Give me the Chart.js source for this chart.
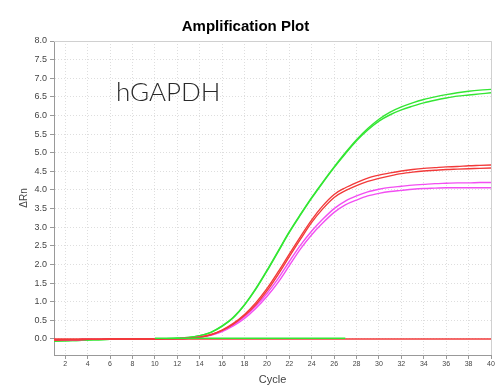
<!DOCTYPE html>
<html>
<head>
<meta charset="utf-8">
<script src="https://cdn.jsdelivr.net/npm/chart.js@4"></script>
<style>
html,body{margin:0;padding:0;background:#fff;}
#wrap{width:500px;height:387px;position:relative;}
</style>
</head>
<body>
<div id="wrap"><canvas id="c" width="500" height="387"></canvas></div>
<script>
const cycles = [1,2,3,4,5,6,7,8,9,10,11,12,13,14,15,16,17,18,19,20,21,22,23,24,25,26,27,28,29,30,31,32,33,34,35,36,37,38,39,40];
const xTicks = [2,4,6,8,10,12,14,16,18,20,22,24,26,28,30,32,34,36,38,40];
const yTicks = [0,0.5,1,1.5,2,2.5,3,3.5,4,4.5,5,5.5,6,6.5,7,7.5,8];

const greenA = [-0.06,-0.05,-0.04,-0.03,-0.02,-0.01,0,0,0,0.01,0.01,0.02,
  0.04,0.09,0.18,0.35,0.58,0.92,1.35,1.84,2.36,2.88,3.35,3.8,4.22,4.62,5.0,5.35,5.65,5.9,6.09,6.23,6.34,6.43,6.50,6.56,6.61,6.65,6.68,6.70];
const greenB = [-0.05,-0.05,-0.04,-0.03,-0.02,-0.01,0,0,0,0.01,0.01,0.02,
  0.04,0.09,0.18,0.34,0.57,0.91,1.33,1.82,2.34,2.86,3.33,3.78,4.2,4.6,4.97,5.32,5.61,5.85,6.02,6.15,6.25,6.34,6.41,6.47,6.52,6.55,6.58,6.61];
const redA = [-0.03,-0.02,-0.02,-0.01,-0.01,0,0,0,0,0,0.01,0.01,
  0.02,0.05,0.12,0.24,0.42,0.66,0.97,1.35,1.8,2.28,2.75,3.2,3.58,3.88,4.06,4.2,4.32,4.40,4.46,4.51,4.55,4.58,4.60,4.62,4.63,4.65,4.66,4.67];
const redB = [-0.03,-0.02,-0.02,-0.01,-0.01,0,0,0,0,0,0.01,0.01,
  0.02,0.05,0.11,0.23,0.40,0.63,0.92,1.29,1.73,2.21,2.68,3.13,3.5,3.8,3.98,4.12,4.23,4.31,4.38,4.44,4.48,4.51,4.53,4.55,4.56,4.57,4.58,4.59];
const magentaA = [-0.03,-0.02,-0.02,-0.01,-0.01,0,0,0,0,0,0.01,0.01,
  0.02,0.05,0.11,0.22,0.38,0.6,0.88,1.22,1.62,2.08,2.52,2.9,3.22,3.5,3.7,3.84,3.95,4.02,4.07,4.10,4.13,4.15,4.17,4.18,4.19,4.19,4.20,4.20];
const magentaB = [-0.03,-0.02,-0.02,-0.01,-0.01,0,0,0,0,0,0.01,0.01,
  0.02,0.05,0.10,0.2,0.35,0.55,0.82,1.14,1.52,1.97,2.42,2.8,3.12,3.4,3.6,3.73,3.84,3.91,3.96,3.99,4.02,4.04,4.05,4.06,4.06,4.06,4.06,4.06];
const greenNTC = [null,null,null,null,null,null,null,null,null,0.02,0.02,0.02,0.02,0.02,0.02,0.02,0.02,0.02,0.02,0.02,0.02,0.02,0.02,0.02,0.02,0.02,0.02,null,null,null,null,null,null,null,null,null,null,null,null,null];
const redNTC = [0,0,0,0,0,0,0,0,0,0,0,0,0,0,0,0,0,0,0,0,0,0,0,0,0,0,0,0,0,0,0,0,0,0,0,0,0,0,0,0];

const GREEN = '#33e633', RED = '#f23a3a', MAGENTA = '#f24ef2';

function pts(arr){ return cycles.map((c,i)=>({x:c, y:arr[i]})); }
function ds(arr, color){
  return {data: pts(arr), borderColor: color, backgroundColor: color, borderWidth: 1.4,
    pointRadius: 0, cubicInterpolationMode: 'monotone', fill: false, spanGaps: false};
}

const frame = {
  id: 'frame',
  beforeDatasetsDraw(chart){
    const {ctx, chartArea: a} = chart;
    ctx.save();
    ctx.strokeStyle = '#d0d0d0';
    ctx.lineWidth = 1;
    ctx.beginPath();
    ctx.moveTo(a.left, a.top + 0.5);
    ctx.lineTo(a.right + 0.5, a.top + 0.5);
    ctx.lineTo(a.right + 0.5, a.bottom);
    ctx.stroke();
    ctx.restore();
  },
  afterDraw(chart){
    const {ctx} = chart;
    ctx.save();
    ctx.fillStyle = '#2a2a2a';
    ctx.font = '300 26px Lato, "Open Sans", sans-serif';
    ctx.textBaseline = 'alphabetic';
    ctx.fillText('hGAPDH', 116, 101);
    ctx.restore();
  }
};

new Chart(document.getElementById('c'), {
  type: 'line',
  data: {
    datasets: [
      ds(greenNTC, GREEN), ds(redNTC, RED),
      ds(redA, RED), ds(redB, RED),
      ds(magentaA, MAGENTA), ds(magentaB, MAGENTA),
      ds(greenA, GREEN), ds(greenB, GREEN)
    ]
  },
  options: {
    responsive: false,
    animation: false,
    layout: {padding: {left: 0, right: 9, top: 0, bottom: 0}},
    plugins: {
      legend: {display: false},
      tooltip: {enabled: false},
      title: {
        display: true, text: 'Amplification Plot', color: '#000',
        font: {family: '"Liberation Sans", Arial, sans-serif', size: 15, weight: 'bold', lineHeight: 1.2},
        padding: {top: 18, bottom: 5}
      }
    },
    scales: {
      x: {
        type: 'linear', min: 1, max: 40,
        afterBuildTicks(s){ s.ticks = xTicks.map(v=>({value:v})); },
        afterFit(s){ s.height = 32; },
        ticks: {stepSize: 2, includeBounds: false, autoSkip: false, maxRotation: 0,
          color: '#444', padding: 1, font: {family: '"Liberation Sans", Arial, sans-serif', size: 7}},
        grid: {color: '#dedede', lineWidth: 1, drawTicks: true, tickLength: 4, tickColor: '#999', tickBorderDash: []},
        border: {display: true, color: '#999', width: 1, dash: [1,2]},
        title: {display: true, text: 'Cycle', color: '#444',
          font: {family: '"Liberation Sans", Arial, sans-serif', size: 11}, padding: {top: 2.4, bottom: 0}}
      },
      y: {
        type: 'linear', min: -0.43, max: 8,
        afterBuildTicks(s){ s.ticks = yTicks.map(v=>({value:v})); },
        afterFit(s){ s.width = 54; },
        ticks: {stepSize: 0.5, includeBounds: false, color: '#444', padding: 3,
          callback: v => v.toFixed(1),
          font: {family: '"Liberation Sans", Arial, sans-serif', size: 9}},
        grid: {color: '#dedede', lineWidth: 1, drawTicks: true, tickLength: 4, tickColor: '#999', tickBorderDash: []},
        border: {display: true, color: '#999', width: 1, dash: [1,2]},
        title: {display: true, text: 'ΔRn', color: '#444',
          font: {family: '"Liberation Sans", Arial, sans-serif', size: 10}, padding: {top: 18, bottom: 0}}
      }
    }
  },
  plugins: [frame]
});
</script>
</body>
</html>
